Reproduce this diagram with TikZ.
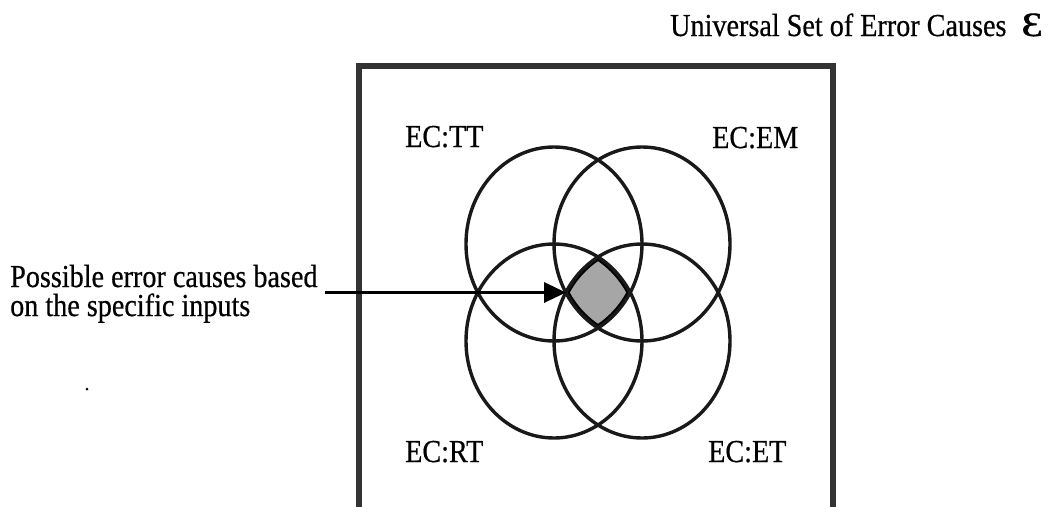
\documentclass[tikz,border=0pt]{standalone}
\usepackage{fontspec}
\setmainfont{Liberation Serif}
\newfontfamily\scanfont[FakeBold=0.6]{Liberation Serif}
\newfontfamily\epsfont[FakeBold=1.2]{Liberation Serif}
\usepackage{graphicx}
\usetikzlibrary{arrows.meta}
\begin{document}
\begin{tikzpicture}[x=1pt,y=-1pt,
  lbl/.style={font=\scanfont\fontsize{32}{29}\selectfont, inner sep=0pt, anchor=base west},
  setline/.style={line width=3.4pt, black!90},
  frame/.style={line width=5.5pt, black!80},
  pointer/.style={line width=3.4pt, -{Triangle[length=22pt,width=20pt]}}]
\useasboundingbox (0,0) rectangle (1054,506);
% frame of the universal set
\coordinate (fbl) at (359,515);
\coordinate (ftl) at (359,66);
\coordinate (ftr) at (833,66);
\coordinate (fbr) at (833,515);
\draw[frame] (fbl) -- (ftl) -- (ftr) -- (fbr);
% centres of the four sets
\coordinate (tl) at (554,244);
\coordinate (tr) at (642,244);
\coordinate (bl) at (554,341);
\coordinate (br) at (642,341);
% shaded common region
\begin{scope}
  \clip (tl) ellipse [x radius=88pt, y radius=97pt];
  \clip (tr) ellipse [x radius=88pt, y radius=97pt];
  \clip (bl) ellipse [x radius=88pt, y radius=97pt];
  \clip (br) ellipse [x radius=88pt, y radius=97pt];
  \fill[black!35] (500,200) rectangle (700,400);
  \draw[line width=7pt] (tl) ellipse [x radius=88pt, y radius=97pt];
  \draw[line width=7pt] (tr) ellipse [x radius=88pt, y radius=97pt];
  \draw[line width=7pt] (bl) ellipse [x radius=88pt, y radius=97pt];
  \draw[line width=7pt] (br) ellipse [x radius=88pt, y radius=97pt];
\end{scope}
\draw[setline] (tl) ellipse [x radius=88pt, y radius=97pt];
\draw[setline] (tr) ellipse [x radius=88pt, y radius=97pt];
\draw[setline] (bl) ellipse [x radius=88pt, y radius=97pt];
\draw[setline] (br) ellipse [x radius=88pt, y radius=97pt];
% labels
\node[lbl] (title) at (670,36) {\scalebox{0.88}[1]{Universal Set of Error Causes}\hspace{15pt}{\epsfont\fontsize{34}{34}\selectfont\scalebox{1.25}[1]{Ɛ}}};
\node[lbl] (tt) at (405,147) {\scalebox{0.88}[1]{EC:TT}};
\node[lbl] (em) at (712,148) {\scalebox{0.88}[1]{EC:EM}};
\node[lbl] (rt) at (405,462) {\scalebox{0.88}[1]{EC:RT}};
\node[lbl] (et) at (708,462) {\scalebox{0.88}[1]{EC:ET}};
\node[lbl, align=left] (poss) at (10,316) {\scalebox{0.88}[1]{Possible error causes based}\\\scalebox{0.88}[1]{on the specific inputs}};
% pointer
\coordinate (astart) at (325,292.5);
\coordinate (core) at (566,292.5);
\draw[pointer] (astart) -- (core);
% stray speck
\fill (87,389) circle (1.5pt);
\end{tikzpicture}
\end{document}
